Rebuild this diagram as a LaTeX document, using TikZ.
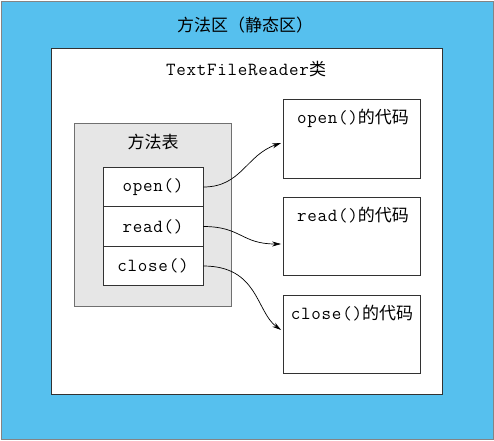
\documentclass[tikz,border=0pt]{standalone}
\usepackage{fontspec}
\setmainfont{Noto Sans CJK SC}
\setmonofont{Latin Modern Mono}[LetterSpace=4]
\usetikzlibrary{arrows.meta}
\definecolor{areablue}{RGB}{86,192,238}
\definecolor{tablegray}{RGB}{230,230,230}
\definecolor{edge}{RGB}{50,50,50}
\newcommand\monotxt{\ttfamily\fontsize{18.5}{20}\selectfont}
\newcommand\cjktxt{\normalfont\fontsize{17}{20}\selectfont}
\tikzset{
  box/.style={draw=edge, line width=0.8pt, inner sep=0pt},
  txt/.style={font=\fontsize{17}{20}\selectfont, text=black, inner sep=0pt},
  link/.style={draw=black, line width=0.7pt, -{Stealth[length=9pt,width=5pt]}},
}
\begin{document}
\begin{tikzpicture}[x=1pt,y=-1pt]
\useasboundingbox (0,0) rectangle (494,440);
\node[box, fill=areablue, draw=edge!60, minimum width=492pt, minimum height=438pt] (outer) at (247,220) {};
\node[txt] (title) at (245,25) {方法区（静态区）};
\node[box, fill=white, minimum width=391pt, minimum height=346pt] (cls) at (246.5,221) {};
\node[txt] (clsname) at (246,69) {\monotxt TextFileReader\cjktxt 类};
\node[box, fill=tablegray, draw=edge!70, minimum width=157pt, minimum height=183pt] (table) at (153,214.5) {};
\node[txt] (tabname) at (153,142) {方法表};
\node[box, fill=white, minimum width=100pt, minimum height=39.5pt] (c1) at (153,187) {};
\node[box, fill=white, minimum width=100pt, minimum height=39.5pt] (c2) at (153,226.5) {};
\node[box, fill=white, minimum width=100pt, minimum height=39.5pt] (c3) at (153,266) {};
\node[txt] (t1) at (c1) {\monotxt open()};
\node[txt] (t2) at (c2) {\monotxt read()};
\node[txt] (t3) at (c3) {\monotxt close()};
\node[box, fill=white, minimum width=137pt, minimum height=79pt] (b1) at (352,138.5) {};
\node[box, fill=white, minimum width=137pt, minimum height=78pt] (b2) at (352,236) {};
\node[box, fill=white, minimum width=137pt, minimum height=78pt] (b3) at (352,334) {};
\node[txt] (l1) at (353,118) {\monotxt open()\cjktxt 的代码};
\node[txt] (l2) at (353,215) {\monotxt read()\cjktxt 的代码};
\node[txt] (l3) at (352,313) {\monotxt close()\cjktxt 的代码};
\coordinate (e1) at ([xshift=-2pt,yshift=-4.5pt]b1.west);
\coordinate (e2) at ([xshift=-2pt,yshift=-8pt]b2.west);
\coordinate (e3) at ([xshift=-2pt,yshift=4pt]b3.west);
\draw[link] (c1.east) .. controls +(38,0) and +(-35,12) .. (e1);
\draw[link] (c2.east) .. controls +(38,0) and +(-40,0) .. (e2);
\draw[link] (c3.east) .. controls +(55,0) and +(-25,-18) .. (e3);
\end{tikzpicture}
\end{document}
